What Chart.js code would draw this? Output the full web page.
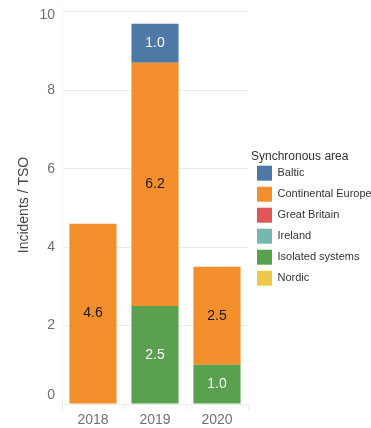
<!DOCTYPE html>
<html>
<head>
<meta charset="utf-8">
<script src="https://cdn.jsdelivr.net/npm/chart.js@4"></script>
<style>
    html, body { margin: 0; padding: 0; background: #ffffff; }
    #wrap { width: 371px; height: 428px; }
</style>
</head>
<body>
<div id="wrap"><canvas id="incidentsChart" width="371" height="428"></canvas></div>
<script>
// Dados do gráfico
const years = ['2018', '2019', '2020'];
const areas = ['Baltic', 'Continental Europe', 'Great Britain', 'Ireland', 'Isolated systems', 'Nordic'];
const areaColors = ['#4E79A7', '#F28E2B', '#E15759', '#76B7B2', '#59A14F', '#EDC948'];
// ordem de empilhamento (menor = embaixo)
const stackOrder = [2, 1, 3, 4, 0, 5];

const baltic = [null, 1.0, null];
const continentalEurope = [4.6, 6.2, 2.5];
const greatBritain = [null, null, null];
const ireland = [null, null, null];
const isolatedSystems = [null, 2.5, 1.0];
const nordic = [null, null, null];
const seriesValues = [baltic, continentalEurope, greatBritain, ireland, isolatedSystems, nordic];

const yTicks = [0, 2, 4, 6, 8, 10];

const FONT = "'Liberation Sans', Arial, sans-serif";

document.addEventListener('DOMContentLoaded', function () {
    renderIncidentsChart();
});

/**
 * Escreve o valor no meio de cada barra.
 */
const barLabels = {
    id: 'barLabels',
    afterDatasetsDraw(chart) {
        const ctx = chart.ctx;
        ctx.save();
        ctx.font = '14px ' + FONT;
        ctx.textAlign = 'center';
        ctx.textBaseline = 'middle';
        chart.data.datasets.forEach((ds, i) => {
            const meta = chart.getDatasetMeta(i);
            if (meta.hidden) return;
            meta.data.forEach((bar, j) => {
                const v = ds.data[j];
                if (v == null) return;
                const c = bar.getCenterPoint();
                ctx.fillStyle = ds.label === 'Continental Europe' ? '#1a1a1a' : '#ffffff';
                ctx.fillText(v.toFixed(1), c.x, c.y);
            });
        });
        ctx.restore();
    }
};

/**
 * Largura fixa para a legenda à direita.
 */
const fixedLegendWidth = {
    id: 'fixedLegendWidth',
    beforeInit(chart) {
        const legend = chart.legend;
        const origFit = legend.fit;
        legend.fit = function () {
            origFit.call(this);
            this.width = 123;
        };
    },
    afterLayout(chart) {
        // afasta um pouco a legenda da área do gráfico
        chart.legend.left += 3;
        chart.legend.width -= 3;
    }
};

/**
 * Puxa os rótulos extremos do eixo y para dentro da área.
 */
const nudgeEdgeTicks = {
    id: 'nudgeEdgeTicks',
    afterLayout(chart) {
        const items = chart.scales.y.getLabelItems();
        if (!items.length) return;
        items[0].options.translation[1] -= 9;
        items[items.length - 1].options.translation[1] += 3;
    }
};

function getChartData() {
    return {
        labels: years,
        datasets: areas.map((name, i) => ({
            label: name,
            data: seriesValues[i],
            backgroundColor: areaColors[i],
            borderWidth: 0,
            order: stackOrder[i],
            barPercentage: 0.76,
            categoryPercentage: 1.0
        }))
    };
}

function getChartOptions() {
    return {
        responsive: false,
        animation: false,
        layout: { padding: { left: 14, top: 6, right: 0, bottom: 0 } },
        scales: {
            x: {
                stacked: true,
                afterFit(axis) {
                    axis.height = 24;
                    axis.paddingLeft = 0;
                    axis.paddingRight = 0;
                },
                grid: {
                    display: true,
                    drawOnChartArea: false,
                    color: '#ebebeb',
                    tickLength: 6
                },
                border: { display: true, color: '#ebebeb' },
                ticks: {
                    color: '#707070',
                    padding: 3,
                    font: { family: FONT, size: 14, lineHeight: 1 }
                }
            },
            y: {
                stacked: true,
                min: 0,
                max: 10.15,
                afterBuildTicks(axis) {
                    axis.ticks = yTicks.map(v => ({ value: v }));
                },
                afterFit(axis) {
                    axis.width = 48;
                    axis.paddingTop = 0;
                    axis.paddingBottom = 0;
                },
                grid: {
                    color: '#ebebeb',
                    drawTicks: false
                },
                border: { display: true, color: '#f2f2f2' },
                ticks: {
                    color: '#707070',
                    padding: 7,
                    font: { family: FONT, size: 14 }
                },
                title: {
                    display: true,
                    text: 'Incidents / TSO',
                    color: '#444444',
                    padding: { top: 2, bottom: 0 },
                    font: { family: FONT, size: 14 }
                }
            }
        },
        plugins: {
            legend: {
                position: 'right',
                align: 'center',
                title: {
                    display: true,
                    text: 'Synchronous area',
                    position: 'start',
                    color: '#333333',
                    padding: { top: 8, bottom: -5 },
                    font: { family: FONT, size: 12 }
                },
                labels: {
                    boxWidth: 15,
                    boxHeight: 15,
                    padding: 6,
                    color: '#333333',
                    font: { family: FONT, size: 11 },
                    sort: (a, b) => a.datasetIndex - b.datasetIndex
                }
            },
            tooltip: { enabled: false }
        }
    };
}

function renderIncidentsChart() {
    const ctx = document.getElementById('incidentsChart').getContext('2d');
    new Chart(ctx, {
        type: 'bar',
        data: getChartData(),
        options: getChartOptions(),
        plugins: [barLabels, fixedLegendWidth, nudgeEdgeTicks]
    });
}
</script>
</body>
</html>
